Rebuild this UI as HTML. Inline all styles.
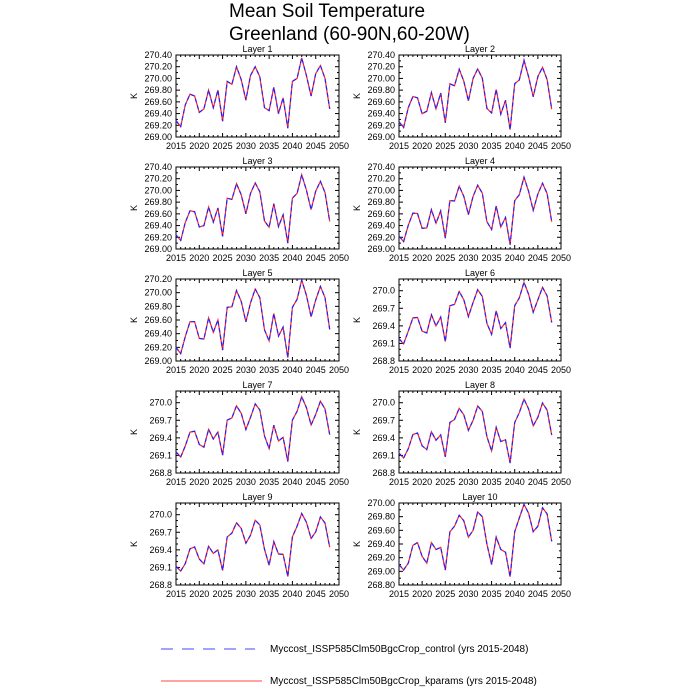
<!DOCTYPE html>
<html><head><meta charset="utf-8"><style>
body{margin:0;background:#fff;}
svg{display:block;font-family:"Liberation Sans",sans-serif;}
</style></head><body>
<svg id="s" width="700" height="700" xmlns="http://www.w3.org/2000/svg">
<text x="229" y="17" font-size="19">Mean Soil Temperature</text>
<text x="229" y="40" font-size="19">Greenland (60-90N,60-20W)</text>
<line x1="161" y1="649" x2="255" y2="649" stroke="#4444ff" stroke-width="1" stroke-dasharray="12,9"/>
<text x="270" y="652" font-size="10">Myccost_ISSP585Clm50BgcCrop_control (yrs 2015-2048)</text>
<line x1="161" y1="681" x2="262" y2="681" stroke="#ff4444" stroke-width="1"/>
<text x="270" y="684" font-size="10">Myccost_ISSP585Clm50BgcCrop_kparams (yrs 2015-2048)</text>
</svg>
<script>
var L1=[269.28,269.18,269.55,269.73,269.70,269.42,269.48,269.80,269.50,269.80,269.27,269.95,269.90,270.20,269.98,269.63,270.05,270.20,270.03,269.50,269.45,269.85,269.40,269.67,269.15,269.95,270.00,270.35,270.05,269.70,270.08,270.22,270.00,269.48];
var L10=[269.10,269.02,269.12,269.38,269.42,269.22,269.12,269.42,269.32,269.35,269.02,269.58,269.66,269.82,269.74,269.50,269.60,269.87,269.80,269.40,269.10,269.50,269.32,269.28,268.92,269.58,269.78,269.98,269.85,269.58,269.66,269.93,269.84,269.44];
var R=[[269,270.4,0.2,2],[269,270.4,0.2,2],[269,270.4,0.2,2],[269,270.4,0.2,2],[269,270.2,0.2,2],[268.8,270.2,0.3,1],[268.8,270.2,0.3,1],[268.8,270.2,0.3,1],[268.8,270.2,0.3,1],[268.8,270.0,0.2,2]];
var s=document.getElementById('s'),h='';
for(var k=0;k<10;k++){
 var col=k%2,row=Math.floor(k/2);
 var x0=col?399:176,x1=col?561:339,y0=55+row*112,y1=y0+82;
 var r=R[k],t=k/9;
 var X=function(yr){return x0+(yr-2015)/35*(x1-x0);};
 var Y=function(v){return y1-(v-r[0])/(r[1]-r[0])*(y1-y0);};
 h+='<rect x="'+x0+'" y="'+y0+'" width="'+(x1-x0)+'" height="82" fill="none" stroke="#000" stroke-width="1"/>';
 h+='<text x="'+((x0+x1)/2)+'" y="'+(y0-3)+'" font-size="9" text-anchor="middle">Layer '+(k+1)+'</text>';
 h+='<text transform="translate('+(x0-39)+','+((y0+y1)/2)+') rotate(-90)" font-size="9" text-anchor="middle">K</text>';
 for(var yr=2015;yr<=2050;yr+=5){var xx=X(yr);
  h+='<line x1="'+xx+'" y1="'+y1+'" x2="'+xx+'" y2="'+(y1-4)+'" stroke="#000"/><line x1="'+xx+'" y1="'+y0+'" x2="'+xx+'" y2="'+(y0+4)+'" stroke="#000"/>';
  h+='<text x="'+xx+'" y="'+(y1+12)+'" font-size="9" text-anchor="middle">'+yr+'</text>';}
 for(var yr=2016;yr<2050;yr++){if(yr%5){var xx=X(yr);h+='<line x1="'+xx+'" y1="'+y1+'" x2="'+xx+'" y2="'+(y1-2)+'" stroke="#000"/><line x1="'+xx+'" y1="'+y0+'" x2="'+xx+'" y2="'+(y0+2)+'" stroke="#000"/>';}}
 for(var v=r[0];v<=r[1]+1e-6;v+=r[2]){var yy=Y(v);
  h+='<line x1="'+x0+'" y1="'+yy+'" x2="'+(x0+4)+'" y2="'+yy+'" stroke="#000"/><line x1="'+x1+'" y1="'+yy+'" x2="'+(x1-4)+'" y2="'+yy+'" stroke="#000"/>';
  h+='<text x="'+(x0-4)+'" y="'+(yy+3)+'" font-size="9" text-anchor="end">'+v.toFixed(r[3])+'</text>';
  var m=r[2]/(r[3]==1?3:2);
  for(var q=1;q*m<r[2]-1e-6&&v+q*m<=r[1];q++){var y2=Y(v+q*m);h+='<line x1="'+x0+'" y1="'+y2+'" x2="'+(x0+2)+'" y2="'+y2+'" stroke="#000"/><line x1="'+x1+'" y1="'+y2+'" x2="'+(x1-2)+'" y2="'+y2+'" stroke="#000"/>';}}
 var p='';for(var i=0;i<34;i++){var v=L1[i]*(1-t)+L10[i]*t;p+=(i?'L':'M')+X(2015+i).toFixed(1)+','+Y(v).toFixed(1);}
 h+='<path d="'+p+'" fill="none" stroke="#ff2222" stroke-width="1.2"/>';
 h+='<path d="'+p+'" fill="none" stroke="#2222ff" stroke-width="1.2" stroke-dasharray="4,3"/>';
}
s.insertAdjacentHTML('beforeend',h);
</script>
</body></html>
